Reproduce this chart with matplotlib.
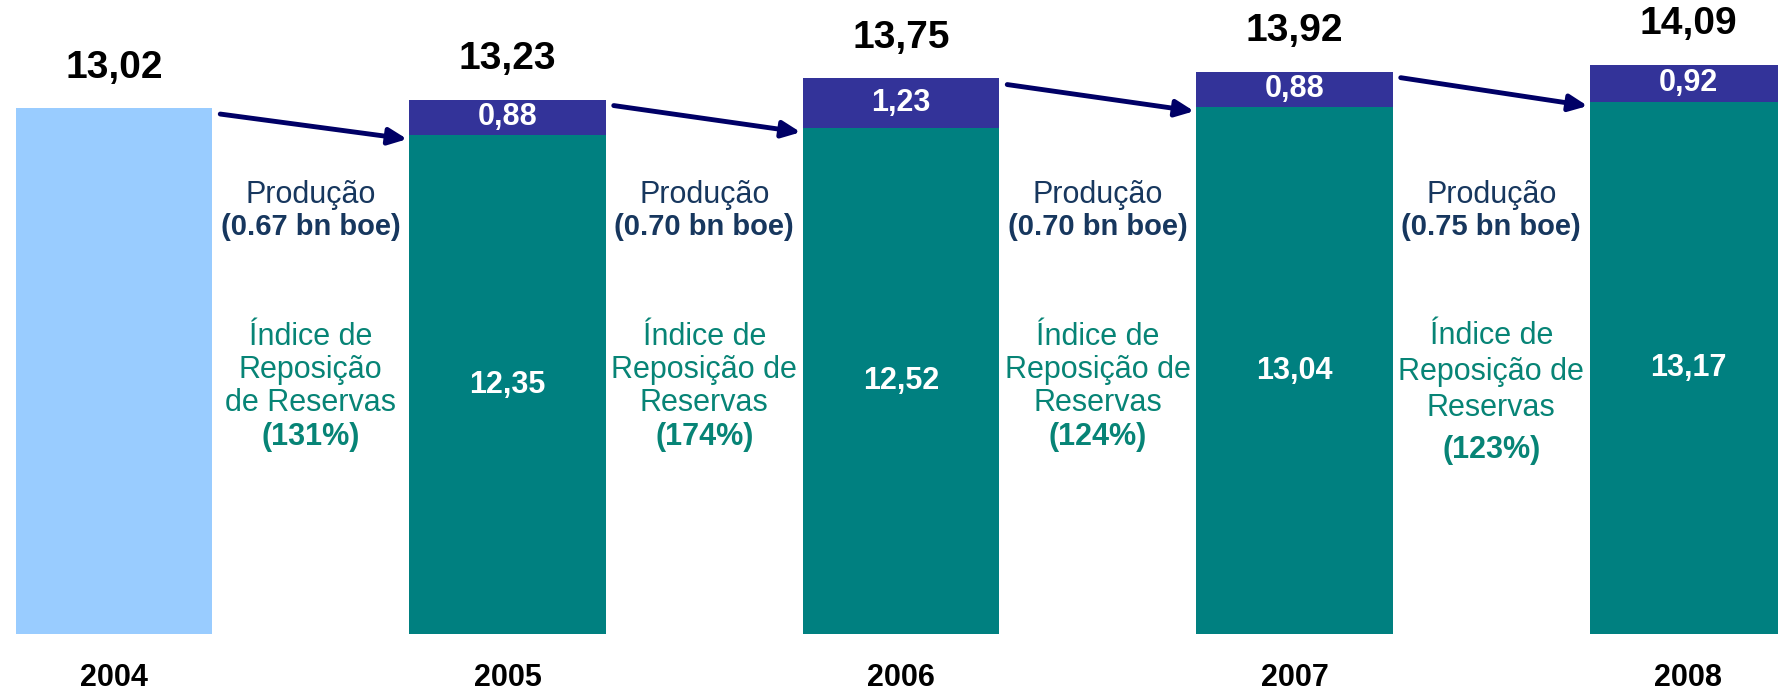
import numpy as np
import matplotlib
matplotlib.use("Agg")
import matplotlib.pyplot as plt

years = ["2004", "2005", "2006", "2007", "2008"]
base = [13.02, 12.35, 12.52, 13.04, 13.17]
added = [0.0, 0.88, 1.23, 0.88, 0.92]
totals = ["13,02", "13,23", "13,75", "13,92", "14,09"]
production = ["(0.67 bn boe)", "(0.70 bn boe)", "(0.70 bn boe)", "(0.75 bn boe)"]
reposicao = ["(131%)", "(174%)", "(124%)", "(123%)"]
ir_lines = ["Índice de\nReposição\nde Reservas",
            "Índice de\nReposição de\nReservas",
            "Índice de\nReposição de\nReservas",
            "Índice de\nReposição de\nReservas"]

LIGHT = "#99CCFF"
TEAL = "#008080"
PURPLE = "#333399"
NAVY = "#17375E"
GREEN = "#078476"
ARROW = "#000066"

plt.rcParams["font.family"] = ["Liberation Sans", "DejaVu Sans"]

fig = plt.figure(figsize=(17.78, 6.92), dpi=100)
ax = fig.add_axes([0, 0, 1, 1])
ax.axis("off")

x = np.arange(len(years))
base = np.array(base)
added = np.array(added)
top = base + added
colors = [LIGHT] + [TEAL] * (len(years) - 1)

ax.bar(x, base, width=0.5, color=colors, linewidth=0)
ax.bar(x[1:], added[1:], bottom=base[1:], width=0.5, color=PURPLE, linewidth=0)

for i in range(len(years)):
    ax.text(x[i], top[i] + 1.0, totals[i], ha="center", va="center",
            fontsize=28, fontweight="bold", color="black")
    ax.text(x[i], -1.08, years[i], ha="center", va="center",
            fontsize=22, fontweight="bold", color="black")
    if i > 0:
        ax.text(x[i], base[i] / 2, f"{base[i]:.2f}".replace(".", ","),
                ha="center", va="center", fontsize=22, fontweight="bold", color="white")
        ax.text(x[i], base[i] + added[i] / 2, f"{added[i]:.2f}".replace(".", ","),
                ha="center", va="center", fontsize=22, fontweight="bold", color="white")

# texts between bars
for i in range(len(years) - 1):
    xc = x[i] + 0.5
    ax.text(xc, 10.87, "Produção", ha="center", va="center", fontsize=22, color=NAVY)
    ax.text(xc, 10.07, production[i], ha="center", va="center", fontsize=21,
            fontweight="bold", color=NAVY)
    last = i == len(years) - 2
    ax.text(xc, 6.49 if last else 6.53, ir_lines[i], ha="center", va="center",
            fontsize=22, color=GREEN, linespacing=1.25 if last else 1.12)
    ax.text(xc, 4.55 if last else 4.88, reposicao[i], ha="center", va="center",
            fontsize=22, fontweight="bold", color=GREEN)

    # arrow from previous total to next base
    ax.annotate("", xy=(x[i + 1] - 0.255, base[i + 1] - 0.1),
                xytext=(x[i] + 0.27, top[i] - 0.15),
                arrowprops=dict(arrowstyle="-|>,head_length=1.1,head_width=0.5",
                                color=ARROW, lw=3.5, shrinkA=0, shrinkB=0))

ax.set_xlim(-114 / 393.5, (1778 - 114) / 393.5)
ax.set_ylim(-58 / 40.4, (692 - 58) / 40.4)

fig.savefig("out.png", dpi=100)
